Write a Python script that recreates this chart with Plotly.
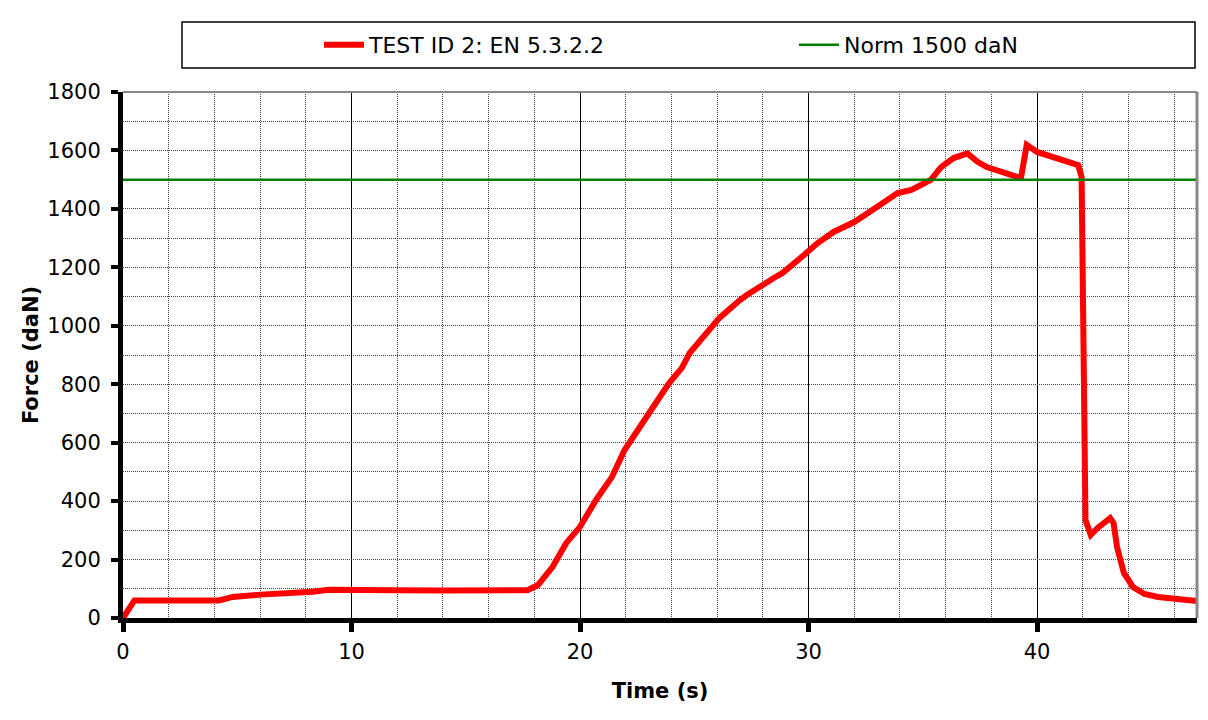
import plotly.graph_objects as go

# Test curve data (time in s, force in daN)
time_s = [0, 0.5, 4.2, 4.8, 6.0, 7.5, 8.3, 9.0, 10.0, 12.0, 14.0, 16.0, 17.7, 18.15,
          18.8, 19.4, 20.0, 20.7, 21.4, 21.95, 22.5, 23.2, 23.9, 24.45, 24.8, 25.5,
          26.1, 27.0, 27.3, 28.55, 28.85, 29.65, 30.4, 31.1, 32.0, 32.6, 33.15, 33.9,
          34.5, 35.35, 35.8, 36.35, 36.95, 37.4, 37.8, 38.4, 39.15, 39.3, 39.55, 40.0,
          40.9, 41.8, 41.95, 42.12, 42.35, 42.65, 43.2, 43.35, 43.5, 43.8, 44.2, 44.7,
          45.3, 47.0]
force_daN = [0, 60, 60, 72, 80, 85, 90, 97, 95, 95, 94, 94, 95, 112,
             175, 257, 312, 404, 483, 575, 643, 722, 804, 855, 907, 975,
             1027, 1088, 1105, 1167, 1180, 1232, 1283, 1321, 1355, 1386, 1413, 1454,
             1465, 1499, 1543, 1574, 1590, 1561, 1543, 1526, 1509, 1508, 1619, 1595,
             1574, 1550, 1509, 335, 284, 308, 342, 325, 243, 154, 106, 82,
             72, 58]

norm_time = [0, 47]
norm_force = [1500, 1500]

series_names = ["TEST ID 2: EN 5.3.2.2", "Norm 1500 daN"]
x_ticks = [0, 10, 20, 30, 40]
y_ticks = [0, 200, 400, 600, 800, 1000, 1200, 1400, 1600, 1800]

FONT = "DejaVu Sans"

fig = go.Figure()
fig.add_trace(go.Scatter(x=time_s, y=force_daN, mode="lines", name=series_names[0],
                         line=dict(color="#ff0000", width=6), legend="legend"))
fig.add_trace(go.Scatter(x=norm_time, y=norm_force, mode="lines", name=series_names[1],
                         line=dict(color="#008000", width=2.5), legend="legend2"))

# page has an 8px body margin: figure sized to fit the 1208x720 window
OFF = 8
W, H = 1208 - OFF, 720 - OFF
PL, PR, PT, PB = 123, 1197, 92, 618   # plot area in page pixels
L, R, T, B = PL - OFF, W + OFF - PR, PT - OFF, H + OFF - PB
pw, ph = PR - PL, PB - PT

def px_x(p):
    return (p - PL) / pw

def px_y(p):
    return (PB - p) / ph

leg_common = dict(orientation="h", yanchor="middle", xanchor="left",
                  bgcolor="rgba(0,0,0,0)", font=dict(size=22, family=FONT),
                  itemwidth=40)

fig.update_layout(
    width=W, height=H,
    margin=dict(l=L, r=R, t=T, b=B, autoexpand=False),
    paper_bgcolor="white", plot_bgcolor="white",
    font=dict(family=FONT, color="black", size=20),
    showlegend=True,
    legend=dict(x=px_x(319), y=px_y(45), **leg_common),
    legend2=dict(x=px_x(794), y=px_y(45), **leg_common),
    xaxis=dict(range=[0, 47], tickvals=x_ticks, ticktext=[str(v) for v in x_ticks],
               showline=True, linecolor="black", linewidth=5,
               ticks="outside", ticklen=9, tickwidth=5, tickcolor="black",
               tickfont=dict(size=21), ticklabelstandoff=2,
               showgrid=True, gridcolor="#000000", gridwidth=1, zeroline=False,
               minor=dict(dtick=2, tick0=0, showgrid=True, gridcolor="#444444",
                          griddash="1px,1px", gridwidth=1, ticks=""),
               title=dict(text="<b>Time (s)</b>", font=dict(size=21), standoff=22)),
    yaxis=dict(range=[0, 1800], tickvals=y_ticks, ticktext=[str(v) for v in y_ticks],
               showline=True, linecolor="black", linewidth=5,
               ticks="outside", ticklen=7, tickwidth=4, tickcolor="black",
               tickfont=dict(size=21), ticklabelstandoff=6,
               showgrid=True, gridcolor="#444444", gridwidth=1, griddash="1px,1px",
               zeroline=False,
               minor=dict(dtick=100, tick0=0, showgrid=True, gridcolor="#444444",
                          griddash="1px,1px", gridwidth=1, ticks=""),
               title=dict(text="<b>Force (daN)</b>", font=dict(size=21), standoff=4)),
    shapes=[
        dict(type="line", xref="paper", yref="paper", x0=0, x1=1, y0=1, y1=1,
             line=dict(color="#888888", width=2)),
        dict(type="line", xref="paper", yref="paper", x0=1, x1=1, y0=0, y1=1,
             line=dict(color="#888888", width=3)),
        dict(type="rect", xref="paper", yref="paper",
             x0=px_x(182), x1=px_x(1195), y0=px_y(68), y1=px_y(22),
             line=dict(color="black", width=1.5), fillcolor="rgba(0,0,0,0)"),
    ],
)

fig.write_html("out.html")
